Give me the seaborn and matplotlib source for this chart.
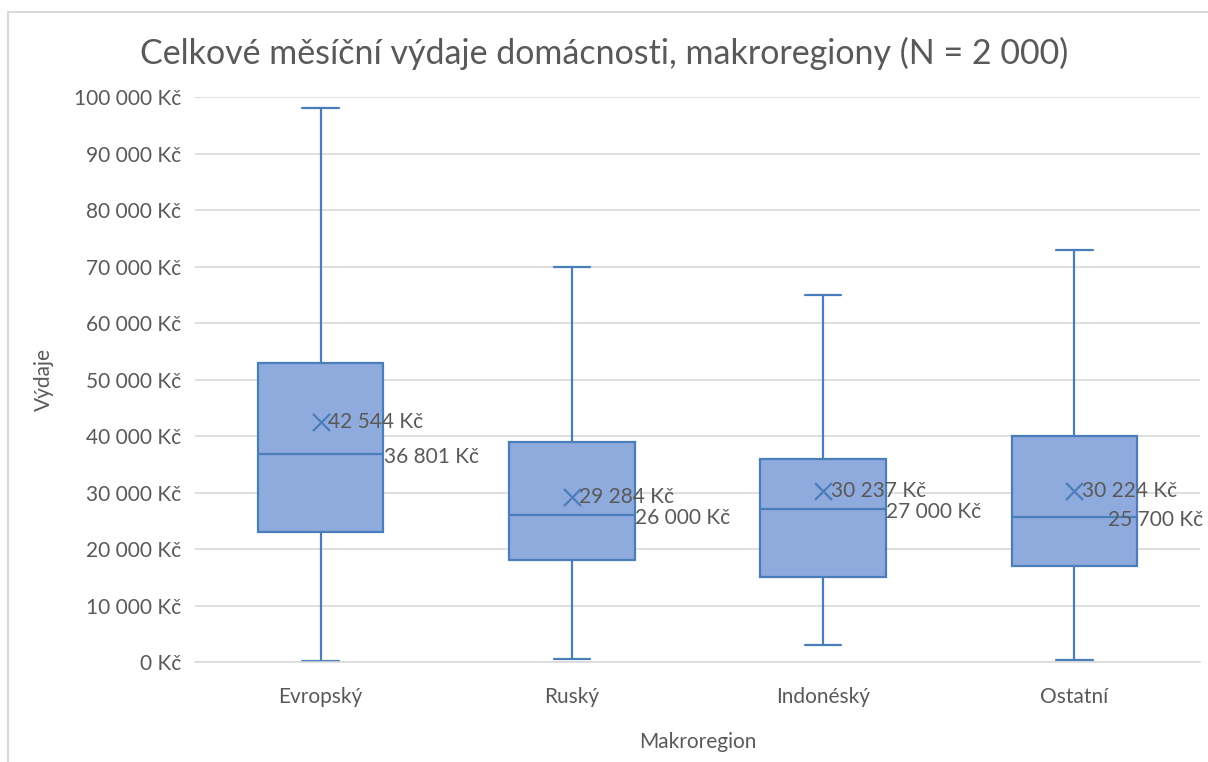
import matplotlib
matplotlib.use("Agg")
import matplotlib.pyplot as plt
import matplotlib.ticker as mticker
from matplotlib.lines import Line2D
import seaborn as sns
import pandas as pd

# five-number summaries (min, Q1, median, Q3, max)
REGIONS = ["Evropský", "Ruský", "Indonéský", "Ostatní"]
MINS = [200, 500, 3000, 300]
Q1S = [23000, 18000, 15000, 17000]
MEDIANS = [36801, 26000, 27000, 25700]
Q3S = [53000, 39000, 36000, 40000]
MAXS = [98000, 70000, 65000, 73000]
MEANS = [42544, 29284, 30237, 30224]

FILL = "#8FAADC"
EDGE = "#4A7EBB"
TEXT = "#595959"
GRID = "#D9D9D9"


def kc(v):
    return f"{v:,.0f}".replace(",", " ") + " Kč"


sns.set_theme(style="white")
plt.rcParams["font.family"] = ["Lato", "DejaVu Sans"]

rows = []
for i, r in enumerate(REGIONS):
    for v in (MINS[i], Q1S[i], MEDIANS[i], Q3S[i], MAXS[i]):
        rows.append({"Makroregion": r, "Výdaje": v})
df = pd.DataFrame(rows)
df_mean = pd.DataFrame({"Makroregion": REGIONS, "Průměr": MEANS})

fig = plt.figure(figsize=(12.08, 7.62), dpi=100)
ax = fig.add_axes([0.1614, 0.1312, 0.832, 0.7415])

line_kw = dict(color=EDGE, linewidth=1.6)
sns.boxplot(data=df, x="Makroregion", y="Výdaje", ax=ax, whis=(0, 100),
            width=0.5, color=FILL, linecolor=EDGE, linewidth=1.6,
            capwidths=0.146, showfliers=False,
            boxprops=dict(facecolor=FILL, edgecolor=EDGE),
            whiskerprops=line_kw, capprops=line_kw, medianprops=line_kw)

sns.scatterplot(data=df_mean, x="Makroregion", y="Průměr", ax=ax, marker="x",
                s=150, color=EDGE, linewidth=1.6, zorder=5, legend=False)

for i in range(len(REGIONS)):
    ax.text(i + 0.03, MEANS[i], kc(MEANS[i]), ha="left", va="center",
            fontsize=15, color=TEXT, zorder=6)
    mx = i + 0.252 if i < len(REGIONS) - 1 else i + 0.134
    ax.text(mx, MEDIANS[i] - 500, kc(MEDIANS[i]), ha="left", va="center",
            fontsize=15, color=TEXT, zorder=6)

ax.set_ylim(0, 100000)
ax.set_xlim(-0.5, 3.5)
ax.yaxis.set_major_locator(mticker.MultipleLocator(10000))
ax.yaxis.set_major_formatter(mticker.FuncFormatter(lambda v, p: kc(v)))
ax.yaxis.grid(True, color=GRID, linewidth=1.2)
ax.set_axisbelow(True)
for s in ("top", "right", "left"):
    ax.spines[s].set_visible(False)
ax.spines["bottom"].set_color(GRID)
ax.spines["bottom"].set_linewidth(1.2)
ax.tick_params(axis="both", length=0, labelsize=15, colors=TEXT, pad=10)
ax.tick_params(axis="x", pad=18)

ax.set_xlabel("Makroregion", fontsize=15, color=TEXT, labelpad=18)
ax.set_ylabel("Výdaje", fontsize=15, color=TEXT, labelpad=14)
fig.suptitle("Celkové měsíční výdaje domácnosti, makroregiony (N = 2 000)",
             fontsize=24.5, color=TEXT, y=0.952)

# chart frame (left and top edges visible in the crop)
fig.add_artist(Line2D([8 / 1208, 8 / 1208], [0, 1 - 12 / 762], color=GRID, linewidth=1.5))
fig.add_artist(Line2D([8 / 1208, 1], [1 - 12 / 762, 1 - 12 / 762], color=GRID, linewidth=1.5))

fig.savefig("out.png", dpi=100)
